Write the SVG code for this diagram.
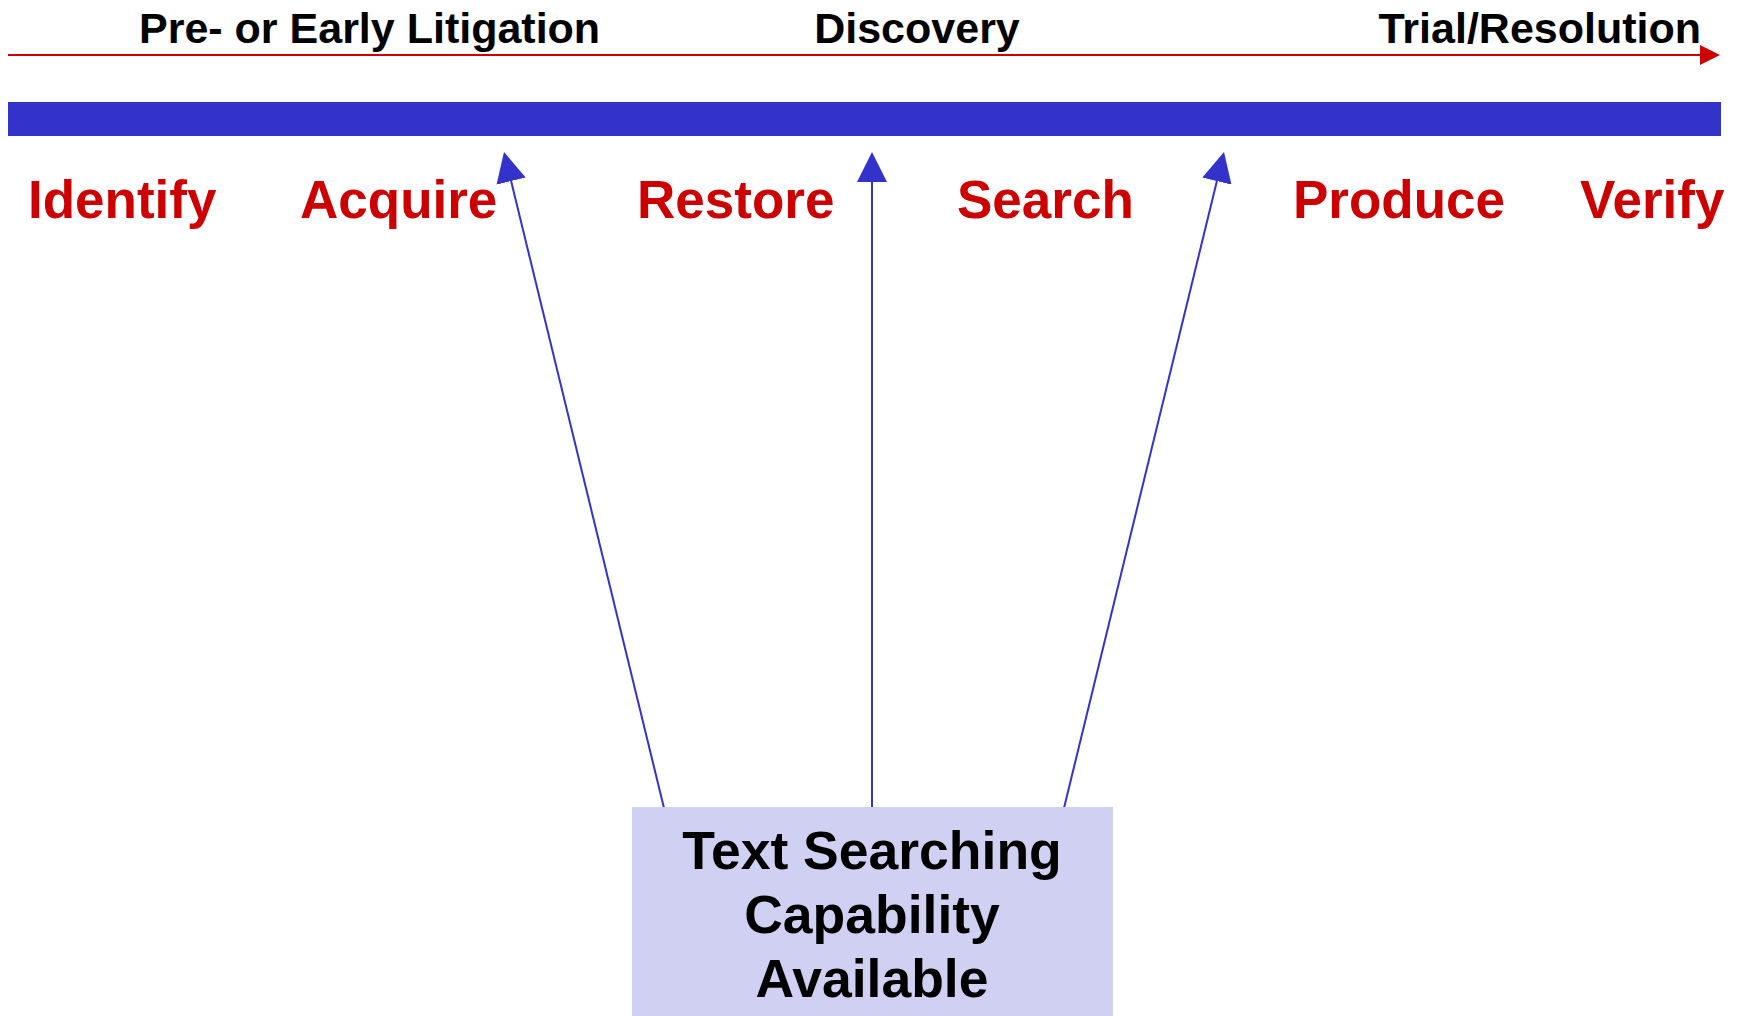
<svg xmlns="http://www.w3.org/2000/svg" width="1740" height="1016" viewBox="0 0 1740 1016">
<style>
  text { font-family: "Liberation Sans", Arial, sans-serif; font-weight: bold; }
  .phase { font-size: 43px; fill: #000000; }
  .step { font-size: 53px; fill: #CC0000; }
  .box { font-size: 53.5px; fill: #000000; text-anchor: middle; }
  .conn { stroke: #3333CC; stroke-width: 2; fill: none; }
</style>
<defs>
  <marker id="blueHead" markerUnits="userSpaceOnUse" markerWidth="30" markerHeight="30" refX="0" refY="15" orient="auto">
    <path d="M0,0 L30,15 L0,30 Z" fill="#3333CC"/>
  </marker>
  <marker id="redHead" markerUnits="userSpaceOnUse" markerWidth="20" markerHeight="20" refX="0" refY="10" orient="auto">
    <path d="M0,0 L20,10 L0,20 Z" fill="#CC0000"/>
  </marker>
</defs>
<rect width="1740" height="1016" fill="#FFFFFF"/>

<g id="timeline">
  <line x1="8" y1="55" x2="1700" y2="55" stroke="#CC0000" stroke-width="2" marker-end="url(#redHead)"/>
  <text class="phase" x="139" y="43">Pre- or Early Litigation</text>
  <text class="phase" x="917" y="43" text-anchor="middle">Discovery</text>
  <text class="phase" x="1701" y="43" text-anchor="end">Trial/Resolution</text>
</g>

<g id="bar">
  <rect x="8" y="102" width="1713" height="34" fill="#3333CC"/>
</g>

<g id="steps">
  <text id="identify" class="step" x="28" y="218">Identify</text>
  <text id="acquire" class="step" x="300" y="218">Acquire</text>
  <text id="restore" class="step" x="637" y="218">Restore</text>
  <text id="search" class="step" x="957" y="218">Search</text>
  <text id="produce" class="step" x="1293" y="218">Produce</text>
  <text id="verify" class="step" x="1580" y="218">Verify</text>
</g>

<g id="connectors">
  <line class="conn" x1="664" y1="808" x2="511.1" y2="181.1" marker-end="url(#blueHead)"/>
  <line class="conn" x1="872" y1="808" x2="872" y2="182" marker-end="url(#blueHead)"/>
  <line class="conn" x1="1064" y1="808" x2="1216.9" y2="181.1" marker-end="url(#blueHead)"/>
</g>

<g id="text-searching">
  <rect x="632" y="807" width="481" height="209" fill="#D0D0F2"/>
  <text class="box" x="872" y="869">Text Searching</text>
  <text class="box" x="872" y="933">Capability</text>
  <text class="box" x="872" y="997">Available</text>
</g>
</svg>
